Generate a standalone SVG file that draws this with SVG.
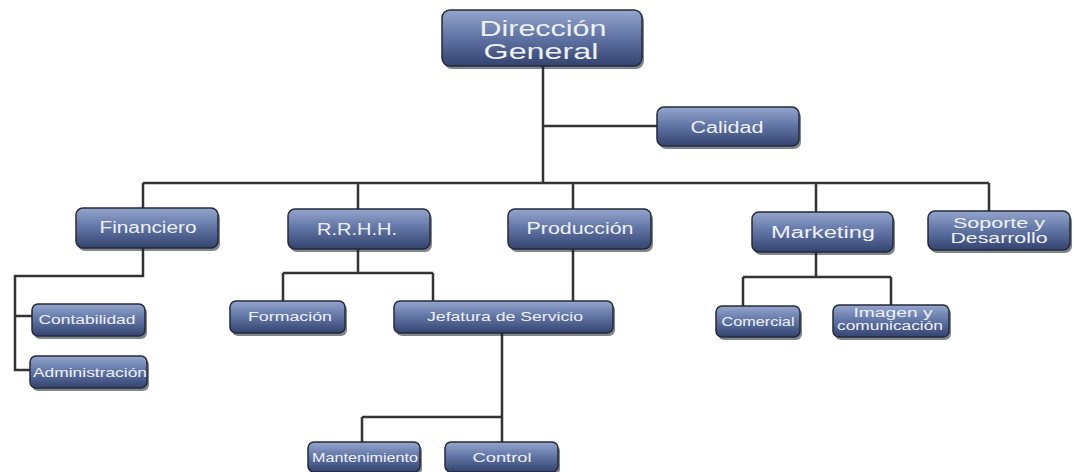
<svg xmlns="http://www.w3.org/2000/svg" width="1074" height="472" viewBox="0 0 1074 472">
<defs>
<linearGradient id="g" x1="0" y1="0" x2="0" y2="1">
<stop offset="0" stop-color="#95a6cc"/>
<stop offset="0.45" stop-color="#6478a8"/>
<stop offset="1" stop-color="#34436f"/>
</linearGradient>
<style>
.box{fill:url(#g);stroke:#232a3a;stroke-width:1.5}
.sh{fill:#1c2230;opacity:0.55}
.t{font-family:"Liberation Sans",Arial,sans-serif;fill:#eef1f8;text-anchor:middle}
.l{fill:none;stroke:#333333;stroke-width:2.5}
</style>
</defs>
<rect width="1074" height="472" fill="#ffffff"/>
<g id="connectors">
<path class="l" d="M543 66V183M543 126H657M143 183H989M143 183V208M358 183V209M573 183V209M816 183V212M989 183V211"/>
<path class="l" d="M143 248V276H15V370H30M15 316H32"/>
<path class="l" d="M358 249V273M283 273H433M283 273V301M433 273V301"/>
<path class="l" d="M573 249V301"/>
<path class="l" d="M502 333V417M362 417H502M362 417V442M502 417V442"/>
<path class="l" d="M816 252V277M743 277H891M743 277V306M891 277V305"/>
</g>
<g id="n-direccion"><rect class="sh" x="444" y="13" width="200" height="56" rx="8"/><rect class="box" x="442" y="10" width="200" height="56" rx="8"/><text class="t" x="543" y="36" font-size="22" textLength="127" lengthAdjust="spacingAndGlyphs">Dirección</text><text class="t" x="541" y="59" font-size="22" textLength="115" lengthAdjust="spacingAndGlyphs">General</text></g>
<g id="n-calidad"><rect class="sh" x="659" y="110" width="142" height="39" rx="7"/><rect class="box" x="657" y="107" width="142" height="39" rx="7"/><text class="t" x="727" y="133" font-size="16" textLength="73" lengthAdjust="spacingAndGlyphs">Calidad</text></g>
<g id="n-financiero"><rect class="sh" x="78" y="211" width="142" height="40" rx="7"/><rect class="box" x="76" y="208" width="142" height="40" rx="7"/><text class="t" x="148" y="233" font-size="16" textLength="97" lengthAdjust="spacingAndGlyphs">Financiero</text></g>
<g id="n-rrhh"><rect class="sh" x="290" y="212" width="142" height="40" rx="7"/><rect class="box" x="288" y="209" width="142" height="40" rx="7"/><text class="t" x="357" y="235" font-size="16" textLength="80" lengthAdjust="spacingAndGlyphs">R.R.H.H.</text></g>
<g id="n-produccion"><rect class="sh" x="510" y="212" width="143" height="40" rx="7"/><rect class="box" x="508" y="209" width="143" height="40" rx="7"/><text class="t" x="580" y="234" font-size="16" textLength="107" lengthAdjust="spacingAndGlyphs">Producción</text></g>
<g id="n-marketing"><rect class="sh" x="754" y="215" width="141" height="40" rx="7"/><rect class="box" x="752" y="212" width="141" height="40" rx="7"/><text class="t" x="823" y="238" font-size="16" textLength="104" lengthAdjust="spacingAndGlyphs">Marketing</text></g>
<g id="n-soporte"><rect class="sh" x="930" y="214" width="142" height="39" rx="7"/><rect class="box" x="928" y="211" width="142" height="39" rx="7"/><text class="t" x="999" y="228" font-size="14" textLength="92" lengthAdjust="spacingAndGlyphs">Soporte y</text><text class="t" x="999" y="243" font-size="14" textLength="97" lengthAdjust="spacingAndGlyphs">Desarrollo</text></g>
<g id="n-contabilidad"><rect class="sh" x="34" y="307" width="113" height="32" rx="6"/><rect class="box" x="32" y="304" width="113" height="32" rx="6"/><text class="t" x="87" y="324" font-size="13" textLength="97" lengthAdjust="spacingAndGlyphs">Contabilidad</text></g>
<g id="n-administracion"><rect class="sh" x="32" y="359" width="117" height="32" rx="6"/><rect class="box" x="30" y="356" width="117" height="32" rx="6"/><text class="t" x="90" y="377" font-size="13" textLength="114" lengthAdjust="spacingAndGlyphs">Administración</text></g>
<g id="n-formacion"><rect class="sh" x="232" y="304" width="115" height="32" rx="6"/><rect class="box" x="230" y="301" width="115" height="32" rx="6"/><text class="t" x="290" y="321" font-size="13" textLength="84" lengthAdjust="spacingAndGlyphs">Formación</text></g>
<g id="n-jefatura"><rect class="sh" x="396" y="304" width="219" height="32" rx="6"/><rect class="box" x="394" y="301" width="219" height="32" rx="6"/><text class="t" x="505" y="321" font-size="13" textLength="156" lengthAdjust="spacingAndGlyphs">Jefatura de Servicio</text></g>
<g id="n-mantenimiento"><rect class="sh" x="310" y="445" width="112" height="30" rx="6"/><rect class="box" x="308" y="442" width="112" height="30" rx="6"/><text class="t" x="365" y="462" font-size="13" textLength="106" lengthAdjust="spacingAndGlyphs">Mantenimiento</text></g>
<g id="n-control"><rect class="sh" x="447" y="445" width="113" height="30" rx="6"/><rect class="box" x="445" y="442" width="113" height="30" rx="6"/><text class="t" x="502" y="462" font-size="13" textLength="59" lengthAdjust="spacingAndGlyphs">Control</text></g>
<g id="n-comercial"><rect class="sh" x="718" y="309" width="84" height="31" rx="6"/><rect class="box" x="716" y="306" width="84" height="31" rx="6"/><text class="t" x="758" y="326" font-size="13" textLength="73" lengthAdjust="spacingAndGlyphs">Comercial</text></g>
<g id="n-imagen"><rect class="sh" x="835" y="308" width="116" height="32" rx="6"/><rect class="box" x="833" y="305" width="116" height="32" rx="6"/><text class="t" x="893" y="317" font-size="12" textLength="79" lengthAdjust="spacingAndGlyphs">Imagen y</text><text class="t" x="890" y="330" font-size="12" textLength="106" lengthAdjust="spacingAndGlyphs">comunicación</text></g>
</svg>
